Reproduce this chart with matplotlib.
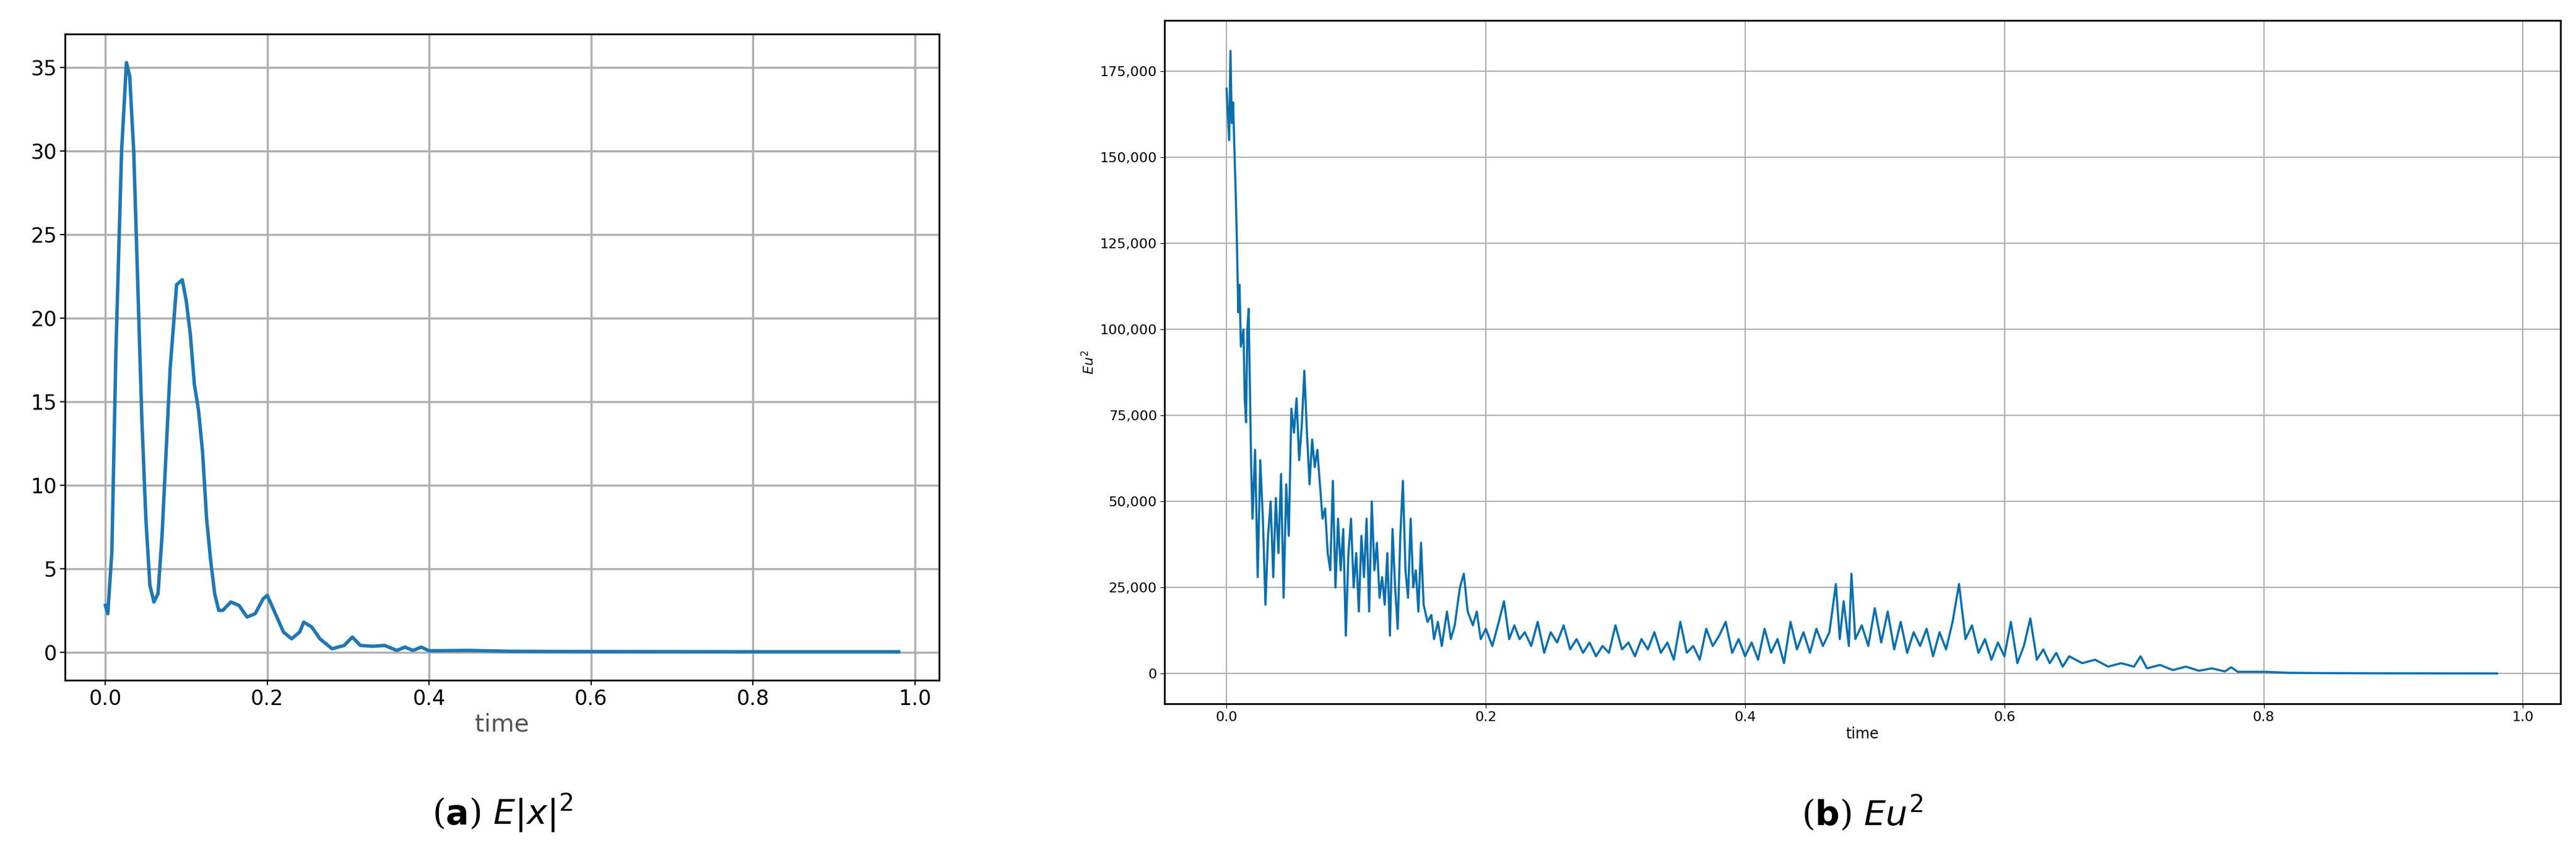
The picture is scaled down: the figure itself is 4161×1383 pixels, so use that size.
import matplotlib
matplotlib.use("Agg")
import matplotlib.pyplot as plt
from matplotlib.ticker import FuncFormatter

t_a = [0,0.003,0.008,0.013,0.02,0.026,0.03,0.035,0.04,0.045,0.05,0.055,0.06,0.065,0.07,0.075,0.08,0.088,0.095,0.1,0.105,0.11,0.115,0.12,0.125,0.13,0.135,0.14,0.145,0.155,0.165,0.175,0.185,0.195,0.2,0.21,0.22,0.23,0.24,0.245,0.255,0.265,0.28,0.295,0.305,0.315,0.33,0.345,0.36,0.37,0.38,0.39,0.4,0.45,0.5,0.6,0.8,0.98]
v_a = [2.8,2.3,6,18,30,35.3,34.5,30,22,14,8,4,3.0,3.5,7,12,17,22,22.3,21,19,16,14.5,12,8,5.5,3.5,2.5,2.5,3.0,2.8,2.1,2.3,3.2,3.4,2.3,1.2,0.8,1.2,1.8,1.5,0.8,0.2,0.4,0.9,0.4,0.35,0.4,0.1,0.3,0.1,0.3,0.08,0.1,0.05,0.03,0.02,0.02]

t_b = [0.0,0.002,0.003,0.004,0.005,0.007,0.008,0.009,0.01,0.011,0.013,0.014,0.015,0.016,0.017,0.019,0.02,0.022,0.024,0.026,0.028,0.03,0.032,0.034,0.036,0.038,0.04,0.042,0.044,0.046,0.048,0.05,0.052,0.054,0.056,0.058,0.06,0.062,0.064,0.066,0.068,0.07,0.072,0.074,0.076,0.078,0.08,0.082,0.084,0.086,0.088,0.09,0.092,0.094,0.096,0.098,0.1,0.102,0.104,0.106,0.108,0.11,0.112,0.114,0.116,0.118,0.12,0.122,0.124,0.126,0.128,0.13,0.132,0.134,0.136,0.138,0.14,0.142,0.144,0.146,0.148,0.15,0.152,0.155,0.158,0.16,0.163,0.166,0.17,0.173,0.176,0.18,0.183,0.186,0.19,0.193,0.196,0.2,0.205,0.21,0.214,0.218,0.222,0.226,0.23,0.235,0.24,0.245,0.25,0.255,0.26,0.265,0.27,0.275,0.28,0.285,0.29,0.295,0.3,0.305,0.31,0.315,0.32,0.325,0.33,0.335,0.34,0.345,0.35,0.355,0.36,0.365,0.37,0.375,0.38,0.385,0.39,0.395,0.4,0.405,0.41,0.415,0.42,0.425,0.43,0.435,0.44,0.445,0.45,0.455,0.46,0.465,0.47,0.473,0.476,0.48,0.482,0.485,0.49,0.495,0.5,0.505,0.51,0.515,0.52,0.525,0.53,0.535,0.54,0.545,0.55,0.555,0.56,0.565,0.57,0.575,0.58,0.585,0.59,0.595,0.6,0.605,0.61,0.615,0.62,0.625,0.63,0.635,0.64,0.645,0.65,0.66,0.67,0.68,0.69,0.7,0.705,0.71,0.72,0.73,0.74,0.75,0.76,0.77,0.775,0.78,0.8,0.82,0.85,0.9,0.98]
v_b_k = [170,155,181,160,166,140,125,105,113,95,100,80,73,100,106,60,45,65,28,62,45,20,40,50,28,51,35,58,22,55,40,77,70,80,62,72,88,70,55,68,60,65,55,45,48,35,30,56,25,45,30,42,11,35,45,25,35,18,40,28,45,18,50,30,38,22,28,20,35,11,42,25,13,40,56,30,22,45,25,30,18,38,20,15,17,10,15,8,18,10,14,25,29,18,14,18,10,13,8,15,21,10,14,10,12,8,15,6,12,9,14,7,10,6,9,5,8,6,14,7,9,5,10,7,12,6,9,4,15,6,8,4,13,8,11,15,6,10,5,9,4,13,6,10,3,15,7,12,6,13,8,12,26,10,21,8,29,10,14,8,19,9,18,7,15,6,12,8,13,5,12,7,15,26,10,14,6,10,4,9,5,15,3,8,16,4,7,3,6,2,5,3,4,2,3,2,5,1.5,2.5,1,2,0.8,1.5,0.6,1.8,0.5,0.5,0.2,0.1,0.05,0.02]
v_b = [v * 1000 for v in v_b_k]

x_ticks = [0.0, 0.2, 0.4, 0.6, 0.8, 1.0]
color = "#1f77b4"

fig = plt.figure(figsize=(41.61, 13.83), dpi=100)

ax1 = fig.add_axes([0.0252, 0.205, 0.3394, 0.755])
ax1.plot(t_a, v_a, color=color, lw=4)
ax1.set_xlim(-0.05, 1.03)
ax1.set_ylim(-1.7, 37)
ax1.set_xticks(x_ticks)
ax1.set_yticks([0, 5, 10, 15, 20, 25, 30, 35])
ax1.grid(True, color="#b0b0b0", lw=2.5)
ax1.set_axisbelow(True)
ax1.tick_params(labelsize=24, length=6, width=1.5)
ax1.set_xlabel("time", fontsize=28, color="#555555")
for s in ax1.spines.values():
    s.set_linewidth(2)
fig.text(0.195, 0.05, r"($\mathbf{a}$) $E|x|^2$", ha="center", va="center", fontsize=40, family="DejaVu Serif")

ax2 = fig.add_axes([0.452, 0.178, 0.542, 0.798])
ax2.plot(t_b, v_b, color="#0a6fad", lw=2.5)
ax2.set_xlim(-0.048, 1.029)
ax2.set_ylim(-8760, 189800)
ax2.set_xticks(x_ticks)
ax2.set_yticks([0, 25000, 50000, 75000, 100000, 125000, 150000, 175000])
ax2.yaxis.set_major_formatter(FuncFormatter(lambda v, p: f"{int(v):,}"))
ax2.grid(True, color="#b0b0b0", lw=1.5)
ax2.set_axisbelow(True)
ax2.tick_params(labelsize=16, length=5)
ax2.set_xlabel("time", fontsize=17)
ax2.set_ylabel(r"$Eu^2$", fontsize=16)
for s in ax2.spines.values():
    s.set_linewidth(2)
fig.text(0.723, 0.05, r"($\mathbf{b}$) $Eu^2$", ha="center", va="center", fontsize=40, family="DejaVu Serif")

fig.savefig("out.png", dpi=100)
